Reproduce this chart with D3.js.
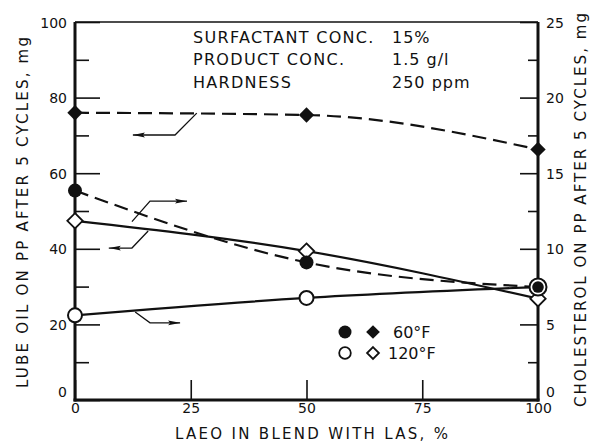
<!DOCTYPE html>
<html>
<head>
<meta charset="utf-8">
<script src="https://cdn.jsdelivr.net/npm/d3@7"></script>
<style>
  html, body { margin: 0; padding: 0; background: #fff; }
  svg { display: block; }
  text { font-family: "DejaVu Sans", sans-serif; fill: #111; }
</style>
</head>
<body>
<svg id="chart" width="590" height="445"></svg>
<script>
// ---- data ----
const xPct = [0, 50, 100];                  // LAEO in blend with LAS, %
const lube60 = [76, 75.4, 66.3];             // lube oil, 60°F (filled diamond, dashed) – left axis
const lube120 = [47.4, 39.4, 26.8];          // lube oil, 120°F (open diamond, solid) – left axis
const chol60 = [13.85, 9.1, 7.47];           // cholesterol, 60°F (filled circle, dashed) – right axis
const chol120 = [5.6, 6.75, 7.47];           // cholesterol, 120°F (open circle, solid) – right axis
const xTicks = [0, 25, 50, 75, 100];
const leftTicks = [0, 20, 40, 60, 80, 100];
const leftMinor = [10, 30, 50, 70, 90];
const rightTicks = [0, 5, 10, 15, 20, 25];
const rightMinor = [2.5, 7.5, 12.5, 17.5, 22.5];
const conditionLabels = ["SURFACTANT CONC.", "PRODUCT CONC.", "HARDNESS"];
const conditionValues = ["15%", "1.5 g/l", "250 ppm"];
const legendLabels = ["60°F", "120°F"];
// annotation arrows: [x %, left-axis value] points; last point is arrow tip
const arrows = [
  [[26.3, 75.9], [21.6, 70.1], [12.5, 70.1]],
  [[12.3, 47.2], [16.2, 52.6], [24.2, 52.6]],
  [[15.8, 44.7], [12.3, 40.2], [7.3, 40.2]],
  [[13.0, 23.3], [16.2, 20.4], [22.7, 20.4]]
];

// ---- layout ----
const svg = d3.select("#chart");
const x = d3.scaleLinear([0, 100], [75, 538]);
const yL = d3.scaleLinear([0, 100], [400, 22]);
const yR = d3.scaleLinear([0, 25], [400, 22]);

svg.append("defs").append("marker")
  .attr("id", "ah").attr("viewBox", "0 0 12 6")
  .attr("refX", 12).attr("refY", 3)
  .attr("markerWidth", 12).attr("markerHeight", 6)
  .attr("markerUnits", "userSpaceOnUse")
  .attr("orient", "auto")
  .append("path").attr("d", "M0,0.6 L12,3 L0,5.4 L2,3 Z").attr("fill", "#111");

// axes (ticks inside)
svg.append("g").attr("class", "yaxis").attr("transform", `translate(${x(0)},0)`)
  .call(d3.axisLeft(yL).tickValues(leftTicks).tickSize(-25).tickPadding(8));
svg.append("g").attr("transform", `translate(${x(0)},0)`)
  .call(d3.axisLeft(yL).tickValues(leftMinor).tickSize(-14).tickFormat(""));
svg.append("g").attr("class", "yaxis").attr("transform", `translate(${x(100)},0)`)
  .call(d3.axisRight(yR).tickValues(rightTicks).tickSize(-18).tickPadding(8));
svg.append("g").attr("transform", `translate(${x(100)},0)`)
  .call(d3.axisRight(yR).tickValues(rightMinor).tickSize(-10).tickFormat(""));
svg.append("g").attr("transform", `translate(0,${yL(0)})`)
  .call(d3.axisBottom(x).tickValues(xTicks).tickSize(-20).tickPadding(3));

svg.selectAll(".domain").remove();
svg.selectAll(".tick line").attr("stroke", "#111").attr("stroke-width", 1.6);
svg.selectAll(".tick text").attr("font-size", 14).attr("fill", "#111")
  .style("font-family", "'DejaVu Sans', sans-serif");
svg.selectAll(".yaxis .tick text").attr("dy", d => d === 0 ? "-4px" : "5px");

// frame
const frame = svg.append("g").attr("fill", "none").attr("stroke", "#111");
frame.append("line").attr("x1", x(0)).attr("x2", x(100)).attr("y1", yL(100)).attr("y2", yL(100)).attr("stroke-width", 1.5);
frame.append("line").attr("x1", x(0)).attr("x2", x(0)).attr("y1", yL(100)).attr("y2", yL(0) + 1.5).attr("stroke-width", 3);
frame.append("line").attr("x1", x(100)).attr("x2", x(100)).attr("y1", yL(100)).attr("y2", yL(0) + 1.5).attr("stroke-width", 3);
frame.append("line").attr("x1", x(0) - 1.5).attr("x2", x(100) + 1.5).attr("y1", yL(0)).attr("y2", yL(0)).attr("stroke-width", 3);

// lines
const mk = (vals, ys) => xPct.map((p, i) => [x(p), ys(vals[i])]);
const line = d3.line().curve(d3.curveMonotoneX);
const series = [
  { v: lube60, s: yL, dash: "14,7" },
  { v: lube120, s: yL, dash: null },
  { v: chol60, s: yR, dash: "14,7" },
  { v: chol120, s: yR, dash: null }
];
series.forEach(d => {
  svg.append("path").attr("d", line(mk(d.v, d.s)))
    .attr("fill", "none").attr("stroke", "#111").attr("stroke-width", 2.2)
    .attr("stroke-dasharray", d.dash);
});

// arrows
arrows.forEach(a => {
  svg.append("path")
    .attr("d", d3.line()(a.map(p => [x(p[0]), yL(p[1])])))
    .attr("fill", "none").attr("stroke", "#111").attr("stroke-width", 1.3)
    .attr("marker-end", "url(#ah)");
});

// markers
const diamond = d3.symbol().type(d3.symbolDiamond2).size(150);
xPct.forEach((p, i) => {
  svg.append("path").attr("d", diamond()).attr("transform", `translate(${x(p)},${yL(lube120[i])})`)
    .attr("fill", "#fff").attr("stroke", "#111").attr("stroke-width", 1.8);
  svg.append("circle").attr("cx", x(p)).attr("cy", yR(chol120[i])).attr("r", i === 2 ? 8.5 : 7)
    .attr("fill", "#fff").attr("stroke", "#111").attr("stroke-width", 2);
});
xPct.forEach((p, i) => {
  svg.append("path").attr("d", diamond()).attr("transform", `translate(${x(p)},${yL(lube60[i])})`)
    .attr("fill", "#111");
  svg.append("circle").attr("cx", x(p)).attr("cy", yR(chol60[i])).attr("r", i === 2 ? 5.8 : 7)
    .attr("fill", "#111");
});

// condition text block
const cond = svg.append("g").attr("font-size", 16);
const rowsY = [42.5, 65, 87.5];
conditionLabels.forEach((t, i) => {
  cond.append("text").attr("x", 193).attr("y", rowsY[i]).attr("letter-spacing", 1.3).text(t);
  cond.append("text").attr("x", 392).attr("y", rowsY[i]).attr("letter-spacing", 1).text(conditionValues[i]);
});

// legend
const legY = [332, 353];
legendLabels.forEach((t, i) => {
  const filled = i === 0;
  svg.append("circle").attr("cx", 345).attr("cy", legY[i]).attr("r", filled ? 6.5 : 5.8)
    .attr("fill", filled ? "#111" : "#fff").attr("stroke", "#111").attr("stroke-width", filled ? 0 : 1.8);
  svg.append("path").attr("d", d3.symbol().type(d3.symbolDiamond2).size(filled ? 120 : 90)())
    .attr("transform", `translate(373,${legY[i]})`)
    .attr("fill", filled ? "#111" : "#fff").attr("stroke", "#111").attr("stroke-width", filled ? 0 : 1.8);
  svg.append("text").attr("x", i === 0 ? 393 : 388).attr("y", legY[i] + 6).attr("font-size", 16).text(t);
});

// axis titles
svg.append("text").attr("x", x(50) + 5).attr("y", 439).attr("text-anchor", "middle")
  .attr("font-size", 15).attr("textLength", 273).attr("lengthAdjust", "spacing")
  .text("LAEO IN BLEND WITH LAS, %");
svg.append("text").attr("transform", "translate(28,212.5) rotate(-90)").attr("text-anchor", "middle")
  .attr("font-size", 15).attr("textLength", 351).attr("lengthAdjust", "spacing")
  .text("LUBE OIL ON PP AFTER 5 CYCLES, mg");
svg.append("text").attr("transform", "translate(586,210) rotate(-90)").attr("text-anchor", "middle")
  .attr("font-size", 15).attr("textLength", 394).attr("lengthAdjust", "spacing")
  .text("CHOLESTEROL ON PP AFTER 5 CYCLES, mg");
</script>
</body>
</html>
